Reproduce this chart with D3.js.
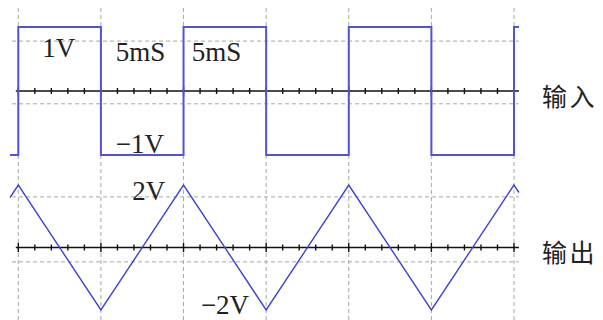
<!DOCTYPE html>
<html>
<head>
<meta charset="utf-8">
<style>
  body { margin: 0; background: #fff; }
  .grid { stroke: #a8a8a8; stroke-width: 1px; stroke-dasharray: 4,3; fill: none; }
  .axisline { stroke: #111; stroke-width: 1.6px; }
  .tick { stroke: #111; stroke-width: 1.4px; }
  .lbl { font-family: "Liberation Serif", "DejaVu Serif", serif; font-size: 27px; fill: #222; }
  .cjk { font-family: "Noto Sans CJK SC", sans-serif; font-size: 25px; fill: #222; letter-spacing: 2.5px; }
</style>
</head>
<body>
<svg id="chart" width="603" height="320"></svg>
<script src="https://d3js.org/d3.v7.min.js"></script>
<script>
// time in ms, voltages in V
var gridTimes = [0, 5, 10, 15, 20, 25, 30];
var minorStep = 1; // ms between small ticks

var squareT = [-0.5, 0, 0, 5, 5, 10, 10, 15, 15, 20, 20, 25, 25, 30, 30, 30.3];
var squareV = [-1, -1, 1, 1, -1, -1, 1, 1, -1, -1, 1, 1, -1, -1, 1, 1];

var triT = [-0.5, 0, 5, 10, 15, 20, 25, 30, 30.3];
var triV = [1.6, 2, -2, 2, -2, 2, -2, 2, 1.76];

var topGridV = [0.78, -0.2];
var botGridV = [1.62, -0.46];

var labels = [
  { panel: "top", t: 1.45, v: 0.53, text: "1V" },
  { panel: "top", t: 5.9, v: 0.47, text: "5mS" },
  { panel: "top", t: 10.5, v: 0.47, text: "5mS" },
  { panel: "top", t: 5.9, v: -0.97, text: "\u22121V" },
  { panel: "bot", t: 6.9, v: 1.52, text: "2V" },
  { panel: "bot", t: 11.05, v: -2.12, text: "\u22122V" }
];
var sideLabels = [
  { panel: "top", v: -0.23, text: "输入" },
  { panel: "bot", v: -0.45, text: "输出" }
];

var svg = d3.select("#chart");

var x = d3.scaleLinear().domain([0, 30]).range([18.3, 514]);
var yTop = d3.scaleLinear().domain([-1, 1]).range([155, 27]);
var yBot = d3.scaleLinear().domain([-2, 2]).range([310, 185]);

var tStart = -0.5, tEnd = 30.3;

// vertical dashed grid
svg.selectAll(".vgrid")
  .data(gridTimes)
  .enter().append("line")
  .attr("class", "grid")
  .attr("x1", d => x(d)).attr("x2", d => x(d))
  .attr("y1", 8).attr("y2", 320);

function panel(y, gridV, tValues, vValues, strokeW, color) {
  var g = svg.append("g");

  g.selectAll(".hgrid")
    .data(gridV)
    .enter().append("line")
    .attr("class", "grid")
    .attr("x1", x(tStart) + 2).attr("x2", x(tEnd))
    .attr("y1", d => y(d)).attr("y2", d => y(d));

  // axis line with ticks
  var y0 = y(0);
  g.append("line")
    .attr("class", "axisline")
    .attr("x1", x(-0.15)).attr("x2", x(tEnd))
    .attr("y1", y0).attr("y2", y0);

  var ticks = d3.range(0, 30 + 0.001, minorStep);
  g.selectAll(".tick")
    .data(ticks)
    .enter().append("line")
    .attr("class", "tick")
    .attr("x1", d => x(d)).attr("x2", d => x(d))
    .attr("y1", d => y0 - (d % 5 === 0 ? 4.5 : 3))
    .attr("y2", d => y0 + (d % 5 === 0 ? 4.5 : 3));

  var pts = tValues.map((t, i) => [t, vValues[i]]);
  var line = d3.line().x(d => x(d[0])).y(d => y(d[1]));
  g.append("path")
    .attr("d", line(pts))
    .attr("fill", "none")
    .attr("stroke", color)
    .attr("stroke-width", strokeW)
    .attr("stroke-linejoin", "miter");
}

panel(yTop, topGridV, squareT, squareV, 2, "#5252de");
panel(yBot, botGridV, triT, triV, 1.4, "#4040d4");

svg.selectAll(".lbl")
  .data(labels)
  .enter().append("text")
  .attr("class", "lbl")
  .attr("x", d => x(d.t))
  .attr("y", d => (d.panel === "top" ? yTop : yBot)(d.v))
  .text(d => d.text);

svg.selectAll(".cjk")
  .data(sideLabels)
  .enter().append("text")
  .attr("class", "cjk")
  .attr("x", 542)
  .attr("y", d => (d.panel === "top" ? yTop : yBot)(d.v))
  .text(d => d.text);
</script>
</body>
</html>
